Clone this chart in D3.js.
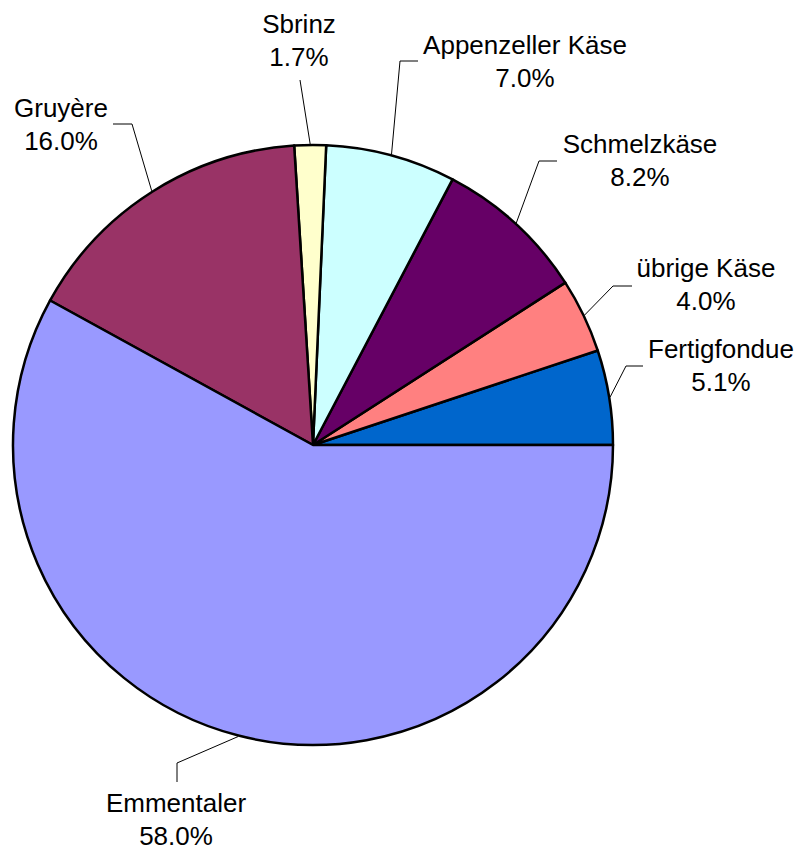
<!DOCTYPE html>
<html>
<head>
<meta charset="utf-8">
<script src="https://cdn.jsdelivr.net/npm/d3@7"></script>
<style>
  body { margin: 0; background: #fff; }
  text { font-family: "Liberation Sans", Arial, sans-serif; font-size: 26px; fill: #000; }
</style>
</head>
<body>
<div id="chart"></div>
<script>
// data, in chart order (counter-clockwise from 3 o'clock)
var categories = ["Fertigfondue", "übrige Käse", "Schmelzkäse", "Appenzeller Käse", "Sbrinz", "Gruyère", "Emmentaler"];
var shares = [5.1, 4.0, 8.2, 7.0, 1.7, 16.0, 58.0];
var colors = ["#0066cc", "#ff8080", "#660066", "#ccffff", "#ffffcc", "#993366", "#9999ff"];

// where the labels sit (label center x, first baseline y) and the leader elbow / tail
var labelLayout = [
    { x: 721, y: 358, elbow: [626, 366], tail: [643, 366] },
    { x: 706, y: 277, elbow: [613, 286], tail: [632, 286] },
    { x: 640, y: 153, elbow: [539, 161], tail: [557, 161] },
    { x: 525, y: 54,  elbow: [400, 61],  tail: [418, 61] },
    { x: 299, y: 33,  elbow: [300, 80],  tail: null },
    { x: 61,  y: 117, elbow: [132, 124], tail: [113, 124] },
    { x: 176, y: 812, elbow: [177, 763], tail: [177, 782] }
];

const width = 803;
const height = 848;
const cx = 313, cy = 445, radius = 300;

var svg = d3.select("#chart")
    .append("svg")
    .attr("width", width)
    .attr("height", height);

var rows = categories.map(function (c, i) {
    return { name: c, value: shares[i], color: colors[i] };
});

var pie = d3.pie()
    .sort(null)
    .value(function (d) { return d.value; })
    .startAngle(Math.PI / 2)
    .endAngle(Math.PI / 2 - 2 * Math.PI);

var arc = d3.arc().innerRadius(0).outerRadius(radius);

var arcs = pie(rows);

var g = svg.append("g").attr("transform", `translate(${cx},${cy})`);

g.selectAll("path.slice")
    .data(arcs)
    .enter().append("path")
    .attr("class", "slice")
    .attr("d", arc)
    .style("fill", function (d) { return d.data.color; })
    .style("stroke", "#000")
    .style("stroke-width", 2.5)
    .style("stroke-linejoin", "round");

// leader lines: from pie edge (mid angle) to elbow, then to tail
svg.append("g").selectAll("path.leader")
    .data(arcs)
    .enter().append("path")
    .attr("class", "leader")
    .attr("d", function (d, i) {
        var a = (d.startAngle + d.endAngle) / 2;
        var r = radius + 1;
        var sx = cx + Math.sin(a) * r;
        var sy = cy - Math.cos(a) * r;
        var L = labelLayout[i];
        var p = `M${sx},${sy} L${L.elbow[0]},${L.elbow[1]}`;
        if (L.tail) p += ` L${L.tail[0]},${L.tail[1]}`;
        return p;
    })
    .style("fill", "none")
    .style("stroke", "#000")
    .style("stroke-width", 1);

var labels = svg.append("g").selectAll("text")
    .data(arcs)
    .enter().append("text")
    .attr("text-anchor", "middle")
    .attr("x", function (d, i) { return labelLayout[i].x; })
    .attr("y", function (d, i) { return labelLayout[i].y; });

labels.append("tspan")
    .attr("x", function (d, i) { return labelLayout[i].x; })
    .text(function (d) { return d.data.name; });

labels.append("tspan")
    .attr("x", function (d, i) { return labelLayout[i].x; })
    .attr("dy", 32.5)
    .text(function (d) { return d.data.value.toFixed(1) + "%"; });
</script>
</body>
</html>
